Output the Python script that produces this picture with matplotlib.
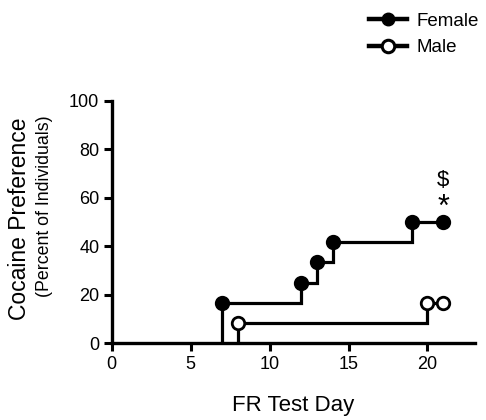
import matplotlib.pyplot as plt
from matplotlib.lines import Line2D

plt.rcParams['font.family'] = ['Liberation Sans', 'DejaVu Sans']

# step data (FR test day, percent of individuals)
female_day = [7, 12, 13, 14, 19, 21]
female_pct = [16.7, 25.0, 33.3, 41.7, 50.0, 50.0]
male_day = [8, 20, 21]
male_pct = [8.3, 16.7, 16.7]

fig = plt.figure(figsize=(4.86, 4.20), dpi=100)
ax = fig.add_axes([0.230, 0.183, 0.747, 0.577])

lw = 2.3
# step lines start from zero at the first day
ax.plot([female_day[0]] + female_day, [0] + female_pct, color='black',
        lw=lw, drawstyle='steps-post', solid_joinstyle='miter')
ax.plot([male_day[0]] + male_day, [0] + male_pct, color='black',
        lw=lw, drawstyle='steps-post', solid_joinstyle='miter')

ax.plot(female_day, female_pct, 'o', color='black', ms=9, mew=2)
ax.plot(male_day, male_pct, 'o', mfc='white', mec='black', ms=9, mew=2)

ax.text(21, 56, '*', fontsize=22, ha='center', va='center')
ax.text(21, 67, '$', fontsize=16, ha='center', va='center')

ax.set_xlim(0, 23)
ax.set_ylim(0, 100)
ax.set_xticks([0, 5, 10, 15, 20])
ax.set_yticks([0, 20, 40, 60, 80, 100])
for s in ['top', 'right']:
    ax.spines[s].set_visible(False)
for s in ['left', 'bottom']:
    ax.spines[s].set_linewidth(2.4)
ax.tick_params(width=2.2, length=6, labelsize=13, colors='black', pad=3)

ax.set_xlabel('FR Test Day', fontsize=16, labelpad=16)
fig.text(0.041, 0.479, 'Cocaine Preference', rotation=90, fontsize=16.5,
         ha='center', va='center')
fig.text(0.091, 0.51, '(Percent of Individuals)', rotation=90, fontsize=12.8,
         ha='center', va='center')

# legend
h1 = Line2D([], [], color='black', lw=3.2, marker='o', ms=9, mfc='black', mec='black')
h2 = Line2D([], [], color='black', lw=3.2, marker='o', ms=9, mfc='white', mec='black', mew=2.2)
fig.legend([h1, h2], ['Female', 'Male'], loc='upper left',
           bbox_to_anchor=(0.725, 1.01), frameon=False, fontsize=13.5,
           handlelength=2.0, handletextpad=0.5, labelspacing=0.5)

fig.savefig('out.png', dpi=100)
